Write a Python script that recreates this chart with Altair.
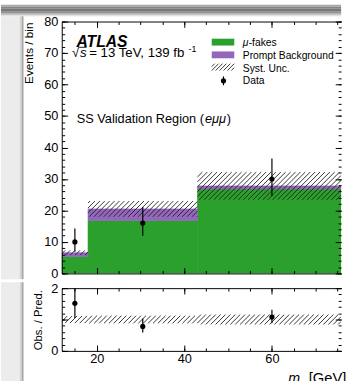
import math

import altair as alt
import pandas as pd

FONT = "Liberation Sans"
GREEN = "#2ca02c"
PURPLE = "#9467bd"
INK = "black"
HATCH = "#1e1e1e"

# m_mumu binning [GeV]
bin_lo = [12, 18, 43]
bin_hi = [18, 43, 77]
bin_ctr = [15, 30.5, 60]

# stacked predictions per bin
mu_fakes = [5.4, 16.8, 26.8]
prompt_bkg = [1.2, 3.7, 1.0]
syst_unc = [0.75, 2.5, 4.4]

# observed events with asymmetric Poisson intervals
data_obs = [10, 16, 30]
data_lo = [6.9, 12.0, 24.6]
data_hi = [14.3, 21.1, 36.5]

# tick positions
x_major = [20, 40, 60]
x_minor = list(range(15, 80, 5))
y_major = list(range(0, 81, 10))
y_minor = list(range(0, 81, 2))
r_major = [0, 1, 2]
r_minor = [round(0.2 * i, 1) for i in range(11)]

X_DOMAIN = [12, 75.8]
W = 285
H_TOP = 257
H_RAT = 64
KX = W / (X_DOMAIN[1] - X_DOMAIN[0])
KY_TOP = H_TOP / 80
KY_RAT = H_RAT / 2

total = [f + p for f, p in zip(mu_fakes, prompt_bkg)]
bins = pd.DataFrame({
    "lo": bin_lo, "hi": bin_hi, "ctr": bin_ctr, "zero": [0] * 3,
    "fakes": mu_fakes, "total": total,
    "obs": data_obs, "obs_lo": data_lo, "obs_hi": data_hi,
    "ratio": [d / t for d, t in zip(data_obs, total)],
    "ratio_lo": [d / t for d, t in zip(data_lo, total)],
    "ratio_hi": [d / t for d, t in zip(data_hi, total)],
})
one = pd.DataFrame({"k": [0]})


def hatch(x0, x1, y0, y1, ky, step=5.0):
    """'/' hatch strokes (45 deg on screen) filling a box given in data units."""
    u0, u1 = (x0 - X_DOMAIN[0]) * KX, (x1 - X_DOMAIN[0]) * KX
    v0, v1 = y0 * ky, y1 * ky
    rows = []
    for k in range(math.ceil((u0 - v1) / step), math.floor((u1 - v0) / step) + 1):
        c = k * step
        va, vb = max(v0, u0 - c), min(v1, u1 - c)
        if vb - va > 0.3:
            rows.append({"x": (va + c) / KX + X_DOMAIN[0], "y": va / ky,
                         "x2": (vb + c) / KX + X_DOMAIN[0], "y2": vb / ky})
    return rows


hatch_top, hatch_rat = [], []
for lo, hi, t, s in zip(bin_lo, bin_hi, total, syst_unc):
    hi = min(hi, X_DOMAIN[1])
    hatch_top += hatch(lo, hi, t - s, t + s, KY_TOP)
    hatch_rat += hatch(lo, hi, 1 - s / t, 1 + s / t, KY_RAT)
hatch_top = pd.DataFrame(hatch_top)
hatch_rat = pd.DataFrame(hatch_rat)

sx = alt.Scale(domain=X_DOMAIN, nice=False, zero=False)
sy_top = alt.Scale(domain=[0, 80], nice=False, zero=False)
sy_rat = alt.Scale(domain=[0, 2], nice=False, zero=False)


def ticks(orient, offset, values, size, domain=False):
    """Inward-pointing tick marks along one side of the frame."""
    return alt.Axis(orient=orient, offset=offset, values=values, tickSize=size,
                    tickWidth=1, tickColor=INK, labels=False, title=None,
                    grid=False, domain=domain, domainColor=INK, domainWidth=1,
                    minExtent=0, maxExtent=0, zindex=1)


def label_axis(orient, values):
    pad = 4 if orient == "left" else 2
    return alt.Axis(orient=orient, values=values, ticks=False, tickSize=0, format="d",
                    labelFont=FONT, labelFontSize=13, labelColor=INK, labelPadding=pad,
                    grid=False, domain=True, domainColor=INK, domainWidth=1,
                    title=None, minExtent=0, zindex=1)


def text(txt, x, y, size, style="normal", weight="normal", angle=0, align="left"):
    return alt.Chart(one).mark_text(
        text=txt, font=FONT, fontSize=size, fontStyle=style, fontWeight=weight,
        align=align, baseline="alphabetic", color=INK, angle=angle,
    ).encode(x=alt.value(x), y=alt.value(y))


def box(x, x2, y, y2, color):
    return alt.Chart(one).mark_rect(color=color).encode(
        x=alt.value(x), x2=alt.value(x2), y=alt.value(y), y2=alt.value(y2))


def seg(x, y, x2, y2, color=INK, width=1.0):
    return alt.Chart(one).mark_rule(color=color, strokeWidth=width).encode(
        x=alt.value(x), y=alt.value(y), x2=alt.value(x2), y2=alt.value(y2))


# page shading above and left of the figure (pixel offsets from the plot origin)
top_shade = [(-17, -15, "#a8a8a8"), (-15, -13, "#858585"), (-13, -10, "#787878"),
             (-10, -8, "#959595"), (-8, -6.5, "#c4c4c4"), (-6.5, -5.5, "#dcdcdc")]
side_shade = [(-62, -43, "#ececec"), (-43, -41, "#d6d6d6"),
              (-41, -39.5, "#a8a8a8"), (-39.5, -38.5, "#cfcfcf")]

# ---------------- main panel ----------------
fakes = alt.Chart(bins).mark_rect(color=GREEN, stroke=GREEN, strokeWidth=0.6, clip=True).encode(
    x=alt.X("lo:Q", scale=sx, axis=ticks("top", -H_TOP, x_major, 6, True)),
    x2="hi:Q",
    y=alt.Y("zero:Q", scale=sy_top, axis=label_axis("left", y_major)),
    y2="fakes:Q",
)
prompt = alt.Chart(bins).mark_rect(color=PURPLE, stroke=PURPLE, strokeWidth=0.6, clip=True).encode(
    x=alt.X("lo:Q", scale=sx, axis=ticks("top", -H_TOP, x_minor, 3)),
    x2="hi:Q",
    y=alt.Y("fakes:Q", scale=sy_top, axis=ticks("right", -W, y_major, 6)),
    y2="total:Q",
)
unc = alt.Chart(hatch_top).mark_rule(color=HATCH, strokeWidth=0.9, clip=True).encode(
    x=alt.X("x:Q", scale=sx, axis=ticks("bottom", -H_TOP, x_major, 6, True)),
    x2="x2:Q",
    y=alt.Y("y:Q", scale=sy_top, axis=ticks("right", -W, y_minor, 3)),
    y2="y2:Q",
)
bars = alt.Chart(bins).mark_rule(color=INK, strokeWidth=1.2).encode(
    x=alt.X("ctr:Q", scale=sx, axis=ticks("bottom", -H_TOP, x_minor, 3)),
    y=alt.Y("obs_lo:Q", scale=sy_top, axis=ticks("left", -W, y_major, 6)),
    y2="obs_hi:Q",
)
points = alt.Chart(bins).mark_point(filled=True, shape="circle", size=28, color=INK, opacity=1).encode(
    x=alt.X("ctr:Q", scale=sx, axis=None),
    y=alt.Y("obs:Q", scale=sy_top, axis=ticks("left", -W, y_minor, 3)),
)

# legend
legend = [
    box(153, 176, 17.5, 24.5, GREEN),
    box(153, 176, 30.5, 37.5, PURPLE),
]
c = 195.0
while c <= 176 + 50:
    xa, xb = max(153, c - 50), min(176, c - 43)
    if xb - xa > 0.3:
        legend.append(seg(xa, c - xa, xb, c - xb, HATCH, 0.9))
    c += 4.0
legend += [
    seg(165, 56, 165, 65, INK, 1.2),
    alt.Chart(one).mark_point(filled=True, shape="circle", size=28, color=INK, opacity=1)
    .encode(x=alt.value(165), y=alt.value(60.5)),
    text("μ", 184.7, 25, 10.5, style="italic"),
    text("-fakes", 190.7, 25, 10.5),
    text("Prompt Background", 184.7, 38, 10.5),
    text("Syst. Unc.", 184.7, 51, 10.5),
    text("Data", 184.7, 64, 10.5),
]

labels = [
    text("Events / bin", -29, 1, 12, angle=270, align="right"),
    text("ATLAS", 15, 25.7, 16, style="italic", weight="bold"),
    text("√", 10.5, 36.5, 13.5),
    text("s", 18.6, 36.5, 13.5, style="italic"),
    seg(17.8, 26.3, 25.3, 26.3, INK, 0.9),
    text("= 13 TeV, 139 fb", 28.0, 36.5, 13.5),
    text("-1", 129.3, 31.0, 9),
    text("SS Validation Region (", 15.3, 103.7, 13),
    text("eμμ", 146.1, 103.7, 13, style="italic"),
    text(")", 168.3, 103.7, 13),
]

top_bg = [box(-62, W, y0, y1, col) for y0, y1, col in top_shade]
top_bg += [box(x0, x1, -5.5, H_TOP + 6, col) for x0, x1, col in side_shade]

main = alt.layer(
    *top_bg, fakes, prompt, unc, bars, points, *legend, *labels
).resolve_axis(x="independent", y="independent").properties(width=W, height=H_TOP)

# ---------------- ratio panel ----------------
band = alt.Chart(hatch_rat).mark_rule(color=HATCH, strokeWidth=0.9, clip=True).encode(
    x=alt.X("x:Q", scale=sx, axis=label_axis("bottom", x_major)),
    x2="x2:Q",
    y=alt.Y("y:Q", scale=sy_rat, axis=label_axis("left", r_major)),
    y2="y2:Q",
)
r_bars = alt.Chart(bins).mark_rule(color=INK, strokeWidth=1.2, clip=True).encode(
    x=alt.X("ctr:Q", scale=sx, axis=ticks("top", -H_RAT, x_major, 6)),
    y=alt.Y("ratio_lo:Q", scale=sy_rat, axis=ticks("right", -W, r_major, 6)),
    y2="ratio_hi:Q",
)
r_points = alt.Chart(bins).mark_point(filled=True, shape="circle", size=28, color=INK, opacity=1).encode(
    x=alt.X("ctr:Q", scale=sx, axis=ticks("top", -H_RAT, x_minor, 3)),
    y=alt.Y("ratio:Q", scale=sy_rat, axis=ticks("right", -W, r_minor, 3)),
)
frame_a = alt.Chart(bins).mark_point(opacity=0).encode(
    x=alt.X("ctr:Q", scale=sx, axis=ticks("bottom", -H_RAT, x_major, 6, True)),
    y=alt.Y("ratio:Q", scale=sy_rat, axis=ticks("left", -W, r_major, 6)),
)
frame_b = alt.Chart(bins).mark_point(opacity=0).encode(
    x=alt.X("ctr:Q", scale=sx, axis=ticks("bottom", -H_RAT, x_minor, 3)),
    y=alt.Y("ratio:Q", scale=sy_rat, axis=ticks("left", -W, r_minor, 3)),
)

x_title = [
    text("Obs. / Pred.", -20.5, 2, 11.5, angle=270, align="right"),
    text("m", 231, 97, 14.5, style="italic"),
    text("μμ", 242.5, 100, 9, style="italic"),
    text("[GeV]", 252, 97, 15),
]

ratio = alt.layer(
    *[box(x0, x1, -6, H_RAT + 31, col) for x0, x1, col in side_shade],
    band, r_bars, r_points, frame_a, frame_b, *x_title
).resolve_axis(x="independent", y="independent").properties(width=W, height=H_RAT)

chart = alt.vconcat(main, ratio, spacing=0).properties(
    padding=0, background="white"
).configure_view(stroke="transparent")

chart.save("out.html", embed_options={"renderer": "svg", "actions": False})
